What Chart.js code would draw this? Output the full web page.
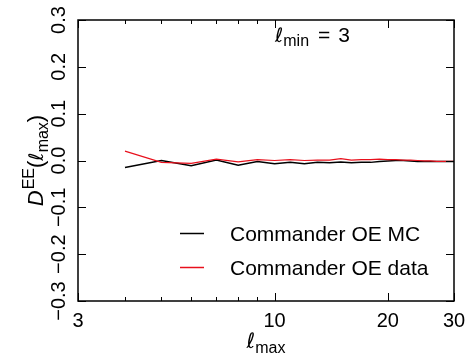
<!DOCTYPE html>
<html>
<head>
<meta charset="utf-8">
<script src="https://cdn.jsdelivr.net/npm/chart.js@4/dist/chart.umd.min.js"></script>
<style>
  html, body { margin: 0; padding: 0; background: #fff; }
  #wrap { width: 467px; height: 358px; }
</style>
</head>
<body>
<div id="wrap"><canvas id="eeChart" width="467" height="358"></canvas></div>
<script>
// l_max values and D^EE(l_max)
const lmax = [4, 5, 6, 7, 8, 9, 10, 11, 12, 13, 14, 15, 16, 17, 18, 19, 20, 21, 22, 23, 24, 25, 26, 27, 28, 29, 30];
const mcValues = [-0.015, 0.000, -0.011, 0.001, -0.010, -0.002, -0.007, -0.004, -0.007, -0.004, -0.005, -0.003, -0.005, -0.004, -0.004, -0.002, -0.001, 0.000, 0.000, -0.001, -0.002, -0.002, -0.002, -0.002, -0.002, -0.002, -0.002];
const dataValues = [0.020, -0.004, -0.006, 0.003, -0.003, 0.002, 0.000, 0.002, 0.000, 0.001, 0.001, 0.004, 0.001, 0.002, 0.002, 0.003, 0.002, 0.002, 0.001, 0.001, 0.000, -0.001, -0.001, -0.002, -0.002, -0.002, -0.002];

const xMajorTicks = [3, 10, 20, 30];
const xMinorTicks = [4, 5, 6, 7, 8, 9];
const yTicks = [-0.3, -0.2, -0.1, 0.0, 0.1, 0.2, 0.3];
const seriesNames = ['Commander OE MC', 'Commander OE data'];
const seriesColors = ['#000000', '#e8101c'];

const FONT = '"Liberation Sans", Arial, sans-serif';
const ELL = '"DejaVu Sans", sans-serif';

function toPoints(vals) {
  return lmax.map((l, i) => ({ x: l, y: vals[i] }));
}

// draw a run of text pieces left-to-right from (x, y), each with own font and vertical shift
function drawPieces(ctx, x, y, pieces) {
  let cx = x;
  pieces.forEach(p => {
    ctx.font = p.font;
    ctx.fillText(p.text, cx, y + (p.dy || 0));
    cx += ctx.measureText(p.text).width + (p.gap || 0);
  });
  return cx - x;
}

function piecesWidth(ctx, pieces) {
  let w = 0;
  pieces.forEach(p => {
    ctx.font = p.font;
    w += ctx.measureText(p.text).width + (p.gap || 0);
  });
  return w;
}

const decorPlugin = {
  id: 'decor',
  afterDraw(chart) {
    const ctx = chart.ctx;
    const area = chart.chartArea;
    const xs = chart.scales.x;
    const ys = chart.scales.y;
    ctx.save();
    ctx.strokeStyle = '#000';
    ctx.fillStyle = '#000';

    // frame
    ctx.lineWidth = 1.5;
    ctx.strokeRect(area.left, area.top, area.right - area.left, area.bottom - area.top);

    // inward ticks
    ctx.lineWidth = 1;
    ctx.beginPath();
    xMajorTicks.forEach(v => {
      const px = Math.round(xs.getPixelForValue(v)) + 0.5;
      ctx.moveTo(px, area.bottom); ctx.lineTo(px, area.bottom - 8);
      ctx.moveTo(px, area.top); ctx.lineTo(px, area.top + 8);
    });
    xMinorTicks.forEach(v => {
      const px = Math.round(xs.getPixelForValue(v)) + 0.5;
      ctx.moveTo(px, area.bottom); ctx.lineTo(px, area.bottom - 4);
      ctx.moveTo(px, area.top); ctx.lineTo(px, area.top + 4);
    });
    yTicks.forEach(v => {
      const py = Math.round(ys.getPixelForValue(v)) + 0.5;
      ctx.moveTo(area.left, py); ctx.lineTo(area.left + 8, py);
      ctx.moveTo(area.right, py); ctx.lineTo(area.right - 8, py);
    });
    ctx.stroke();

    // x tick labels
    ctx.font = '20px ' + FONT;
    ctx.textAlign = 'center';
    ctx.textBaseline = 'alphabetic';
    xMajorTicks.forEach(v => {
      ctx.fillText(String(v), xs.getPixelForValue(v), 327);
    });

    // y tick labels, rotated
    yTicks.forEach(v => {
      const txt = (v < 0 ? '\u2212' : '') + Math.abs(v).toFixed(1);
      ctx.save();
      ctx.translate(65, ys.getPixelForValue(v));
      ctx.rotate(-Math.PI / 2);
      ctx.textAlign = 'center';
      ctx.fillText(txt, 0, 0);
      ctx.restore();
    });

    // x title: l_max
    ctx.textAlign = 'left';
    const xTitle = [
      { text: '\u2113', font: 'italic 21px ' + ELL },
      { text: 'max', font: '16px ' + FONT, dy: 5 }
    ];
    const xtw = piecesWidth(ctx, xTitle);
    drawPieces(ctx, (area.left + area.right) / 2 - xtw / 2, 348, xTitle);

    // y title: D^EE(l_max), rotated
    const yTitle = [
      { text: 'D', font: 'italic 22px ' + FONT, gap: 1 },
      { text: 'EE', font: '16px ' + FONT, dy: -9 },
      { text: '(', font: '22px ' + FONT },
      { text: '\u2113', font: 'italic 20px ' + ELL },
      { text: 'max', font: '16px ' + FONT, dy: 5 },
      { text: ')', font: '22px ' + FONT }
    ];
    ctx.save();
    ctx.translate(43, (area.top + area.bottom) / 2);
    ctx.rotate(-Math.PI / 2);
    const ytw = piecesWidth(ctx, yTitle);
    drawPieces(ctx, -ytw / 2, 0, yTitle);
    ctx.restore();

    // annotation l_min = 3
    drawPieces(ctx, 275, 42, [
      { text: '\u2113', font: 'italic 20px ' + ELL },
      { text: 'min', font: '16px ' + FONT, dy: 4, gap: 9 },
      { text: '=', font: '21px ' + FONT, gap: 8 },
      { text: '3', font: '21px ' + FONT }
    ]);

    // legend
    const legendRows = [234, 268];
    seriesNames.forEach((name, i) => {
      const y = legendRows[i];
      ctx.strokeStyle = seriesColors[i];
      ctx.lineWidth = 1.5;
      ctx.beginPath();
      ctx.moveTo(180, y - 0.5); ctx.lineTo(204, y - 0.5);
      ctx.stroke();
      ctx.font = '21px ' + FONT;
      ctx.textBaseline = 'middle';
      ctx.fillText(name, 230, y + 1);
      ctx.textBaseline = 'alphabetic';
    });

    ctx.restore();
  }
};

new Chart(document.getElementById('eeChart'), {
  type: 'line',
  data: {
    datasets: [
      {
        label: seriesNames[0],
        data: toPoints(mcValues),
        borderColor: seriesColors[0],
        borderWidth: 1.5,
        pointRadius: 0,
        tension: 0,
        order: 2
      },
      {
        label: seriesNames[1],
        data: toPoints(dataValues),
        borderColor: seriesColors[1],
        borderWidth: 1.2,
        pointRadius: 0,
        tension: 0,
        order: 1
      }
    ]
  },
  options: {
    responsive: false,
    animation: false,
    layout: { padding: { left: 78, right: 13, top: 20, bottom: 57 } },
    plugins: {
      legend: { display: false },
      tooltip: { enabled: false }
    },
    scales: {
      x: { type: 'logarithmic', min: 3, max: 30, display: false },
      y: { type: 'linear', min: -0.3, max: 0.3, display: false }
    }
  },
  plugins: [decorPlugin]
});
</script>
</body>
</html>
